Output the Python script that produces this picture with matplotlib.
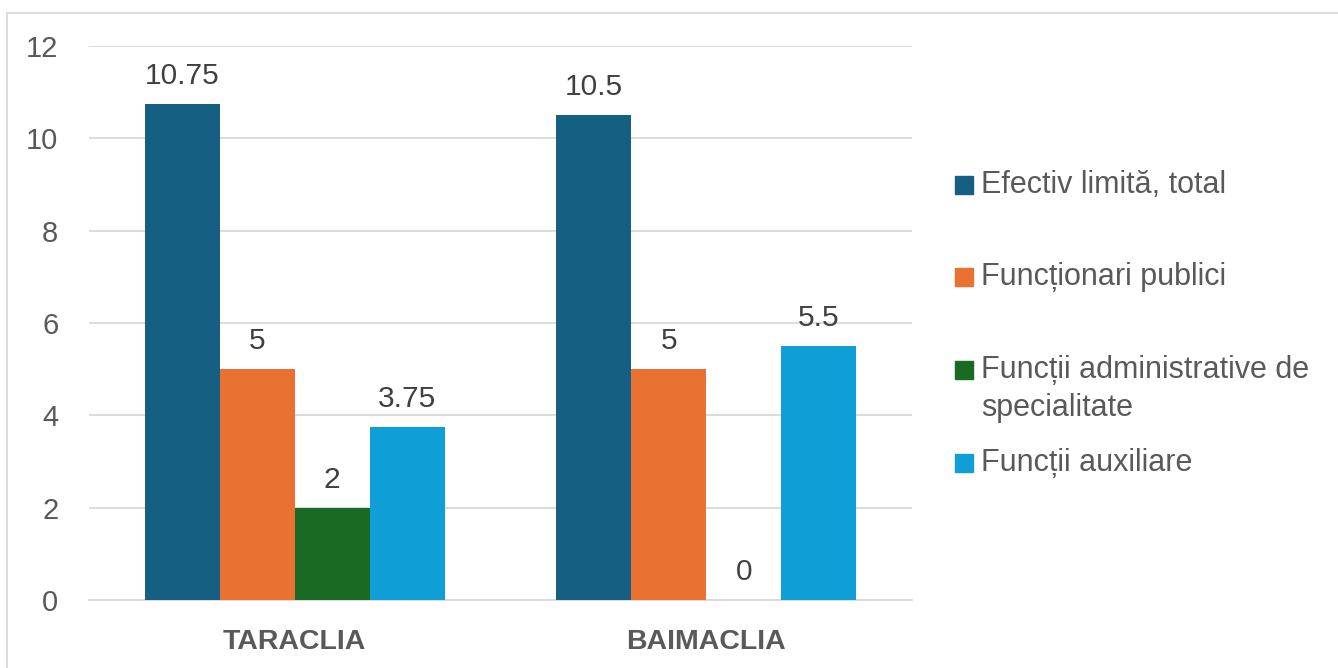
import numpy as np
import matplotlib.pyplot as plt
from matplotlib.patches import Rectangle

plt.rcParams['font.family'] = ['Liberation Sans', 'DejaVu Sans']

categorii = ['TARACLIA', 'BAIMACLIA']
serii = ['Efectiv limită, total', 'Funcționari publici',
         'Funcții administrative de\nspecialitate', 'Funcții auxiliare']
efectiv = [10.75, 10.5]
functionari = [5, 5]
administrative = [2, 0]
auxiliare = [3.75, 5.5]
valori = [efectiv, functionari, administrative, auxiliare]
culori = ['#156082', '#E97132', '#196B24', '#0F9ED5']

text_col = '#595959'
grid_col = '#D9D9D9'

W, H = 1338, 668
fig = plt.figure(figsize=(W/100, H/100), dpi=100)
ax = fig.add_axes([89/W, 68/H, 823/W, 554/H])

x = np.arange(len(categorii))
w = 0.182
for i, (v, c) in enumerate(zip(valori, culori)):
    bars = ax.bar(x + (i - 1.5)*w, v, w, color=c, zorder=3)
    ax.bar_label(bars, labels=[f'{val:g}' for val in v], padding=10,
                 fontsize=21.5, color='#404040')

ax.set_xlim(-0.5, 1.5)
ax.set_ylim(0, 12)
ax.set_yticks(np.arange(0, 13, 2))
ax.set_xticks(x)
ax.set_xticklabels(categorii, fontsize=20.5, fontweight='bold', color=text_col)
ax.tick_params(axis='y', labelsize=21, colors=text_col, length=0, pad=22)
ax.tick_params(axis='x', length=0, pad=21)
ax.grid(axis='y', color=grid_col, linewidth=1.3, zorder=0)
for s in ['top', 'right', 'left']:
    ax.spines[s].set_visible(False)
ax.spines['bottom'].set_color(grid_col)
ax.spines['bottom'].set_linewidth(1.3)

# chenarul graficului
fig.patches.append(Rectangle((7/W, -0.1), 1.2, (H - 13)/H + 0.1,
                             transform=fig.transFigure, fill=False,
                             edgecolor=grid_col, linewidth=1.3))

# legenda (marcaj aliniat cu primul rand al etichetei)
leg_y = [185, 277, 370, 463]
for nume, c, yy in zip(serii, culori, leg_y):
    fig.patches.append(Rectangle((955/W, 1 - (yy + 9)/H), 18/W, 18/H,
                                 transform=fig.transFigure, color=c))
    for k, rand in enumerate(nume.split('\n')):
        fig.text(981/W, 1 - (yy + 38*k)/H, rand, fontsize=22,
                 color=text_col, va='center', ha='left')

fig.savefig('out.png', dpi=100)
